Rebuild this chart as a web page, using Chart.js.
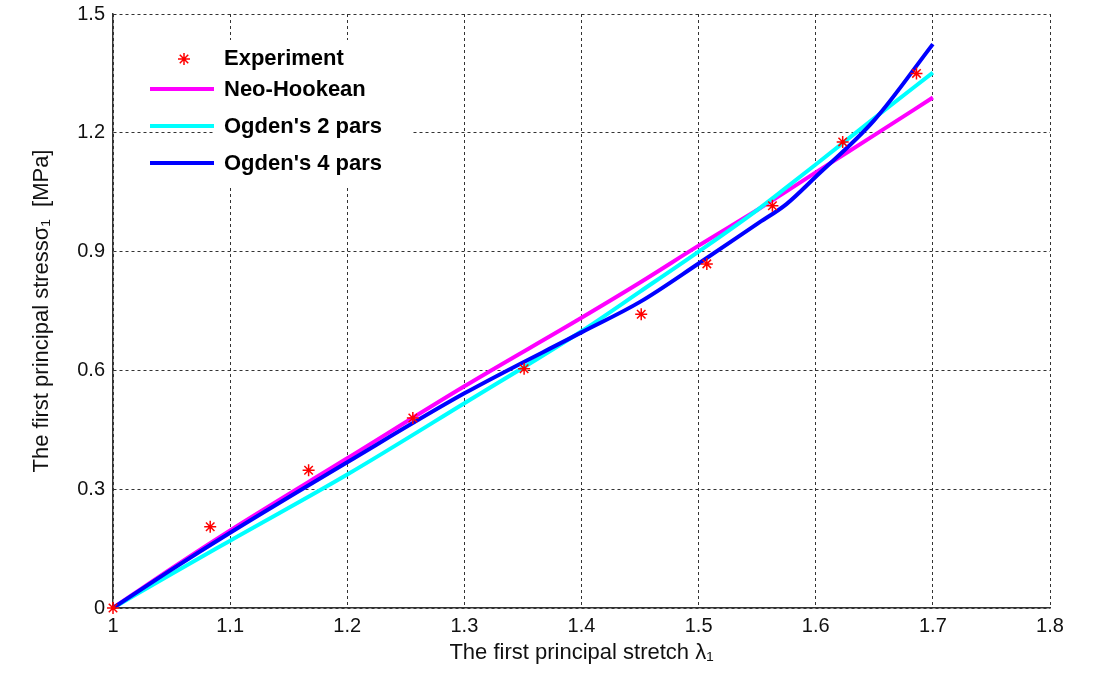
<!DOCTYPE html>
<html>
<head>
<meta charset="utf-8">
<script src="https://cdn.jsdelivr.net/npm/chart.js@4/dist/chart.umd.min.js"></script>
<style>
  body { margin: 0; background: #fff; }
  #wrap { width: 1093px; height: 677px; }
</style>
</head>
<body>
<div id="wrap"><canvas id="stressChart"></canvas></div>
<script>
/*
 DATA
*/
const stretchExp = [1.0, 1.083, 1.167, 1.256, 1.351, 1.451, 1.507, 1.563, 1.623, 1.686];
const stressExp  = [0, 0.205, 0.348, 0.480, 0.604, 0.742, 0.869, 1.016, 1.177, 1.350];

const stretchFit   = [1.0, 1.05, 1.1, 1.2, 1.3, 1.4, 1.45, 1.5, 1.55, 1.575, 1.6, 1.65, 1.7];
const neoHookean   = [0, 0.100, 0.196, 0.378, 0.560, 0.733, 0.822, 0.915, 1.005, 1.052, 1.100, 1.194, 1.289];
const ogden2       = [0, 0.086, 0.170, 0.337, 0.517, 0.699, 0.799, 0.900, 1.005, 1.062, 1.120, 1.237, 1.352];
const ogden4       = [0, 0.097, 0.190, 0.368, 0.542, 0.696, 0.773, 0.870, 0.970, 1.020, 1.089, 1.232, 1.424];

const xTicks = [1, 1.1, 1.2, 1.3, 1.4, 1.5, 1.6, 1.7, 1.8];
const yTicks = [0, 0.3, 0.6, 0.9, 1.2, 1.5];

const legendNames = ["Experiment", "Neo-Hookean", "Ogden's 2 pars", "Ogden's 4 pars"];
const legendColors = ["#ff0000", "#ff00ff", "#00ffff", "#0000ff"];

const FONT = "'Liberation Sans', Arial, Helvetica, sans-serif";

function toPoints(xs, ys) {
  return xs.map((x, i) => ({ x, y: ys[i] }));
}

/*
 LEGEND (drawn inside the plot, MATLAB style)
*/
const insideLegend = {
  id: "insideLegend",
  afterDatasetsDraw(chart) {
    const ctx = chart.ctx;
    ctx.save();
    ctx.fillStyle = "#fff";
    ctx.fillRect(215, 40, 198, 145);

    const rows = [59, 90, 127, 164];
    ctx.font = "bold 22px " + FONT;
    ctx.textBaseline = "middle";
    ctx.textAlign = "left";

    rows.forEach((y, i) => {
      if (i === 0) {
        ctx.strokeStyle = legendColors[0];
        ctx.lineWidth = 1.5;
        const r = 6;
        ctx.beginPath();
        for (let k = 0; k < 4; k++) {
          const a = k * Math.PI / 4;
          ctx.moveTo(184 - r * Math.cos(a), y - r * Math.sin(a));
          ctx.lineTo(184 + r * Math.cos(a), y + r * Math.sin(a));
        }
        ctx.stroke();
      } else {
        ctx.strokeStyle = legendColors[i];
        ctx.lineWidth = 4;
        ctx.beginPath();
        ctx.moveTo(150, y - 1);
        ctx.lineTo(214, y - 1);
        ctx.stroke();
      }
      ctx.fillStyle = "#000";
      ctx.fillText(legendNames[i], 224, y);
    });
    ctx.restore();
  }
};

/*
 CHART
*/
const ctx = document.getElementById("stressChart").getContext("2d");

new Chart(ctx, {
  type: "line",
  data: {
    datasets: [
      {
        label: legendNames[0],
        data: toPoints(stretchExp, stressExp),
        showLine: false,
        pointStyle: "star",
        pointRadius: 6,
        pointBorderWidth: 1.5,
        borderColor: legendColors[0],
        backgroundColor: legendColors[0],
        clip: false,
        order: 0
      },
      {
        label: legendNames[1],
        data: toPoints(stretchFit, neoHookean),
        borderColor: legendColors[1],
        borderWidth: 4,
        pointRadius: 0,
        cubicInterpolationMode: "monotone",
        order: 3
      },
      {
        label: legendNames[2],
        data: toPoints(stretchFit, ogden2),
        borderColor: legendColors[2],
        borderWidth: 4,
        pointRadius: 0,
        cubicInterpolationMode: "monotone",
        order: 2
      },
      {
        label: legendNames[3],
        data: toPoints(stretchFit, ogden4),
        borderColor: legendColors[3],
        borderWidth: 4,
        pointRadius: 0,
        cubicInterpolationMode: "monotone",
        order: 1
      }
    ]
  },
  options: {
    responsive: true,
    maintainAspectRatio: false,
    animation: false,
    layout: { padding: { top: 14, right: 43, left: 0, bottom: 0 } },
    plugins: {
      legend: { display: false },
      tooltip: { enabled: false }
    },
    scales: {
      x: {
        type: "linear",
        min: xTicks[0],
        max: xTicks[xTicks.length - 1],
        afterBuildTicks: axis => { axis.ticks = xTicks.map(v => ({ value: v })); },
        afterFit: axis => { axis.height = 69; },
        grid: { color: "#333", lineWidth: 1, drawTicks: false },
        border: { display: true, color: "#333", width: 1.5, dash: [3, 3] },
        ticks: {
          padding: 6,
          color: "#111",
          font: { family: FONT, size: 20 },
          callback: v => Number(v.toFixed(1)).toString()
        },
        title: {
          display: true,
          text: "The first principal stretch λ₁",
          color: "#111",
          font: { family: FONT, size: 22 },
          padding: { top: 0, bottom: 11 }
        }
      },
      y: {
        type: "linear",
        min: yTicks[0],
        max: yTicks[yTicks.length - 1],
        afterBuildTicks: axis => { axis.ticks = yTicks.map(v => ({ value: v })); },
        afterFit: axis => { axis.width = 113; axis.paddingTop = 0; axis.paddingBottom = 0; },
        grid: { color: "#333", lineWidth: 1, drawTicks: false },
        border: { display: true, color: "#333", width: 1.5, dash: [3, 3] },
        ticks: {
          padding: 8,
          color: "#111",
          font: { family: FONT, size: 20, lineHeight: 1 },
          callback: v => Number(v.toFixed(1)).toString()
        },
        title: {
          display: true,
          text: "The first principal stressσ₁  [MPa]",
          color: "#111",
          font: { family: FONT, size: 22 },
          padding: { top: 29, bottom: 0 }
        }
      }
    }
  },
  plugins: [insideLegend]
});
</script>
</body>
</html>
